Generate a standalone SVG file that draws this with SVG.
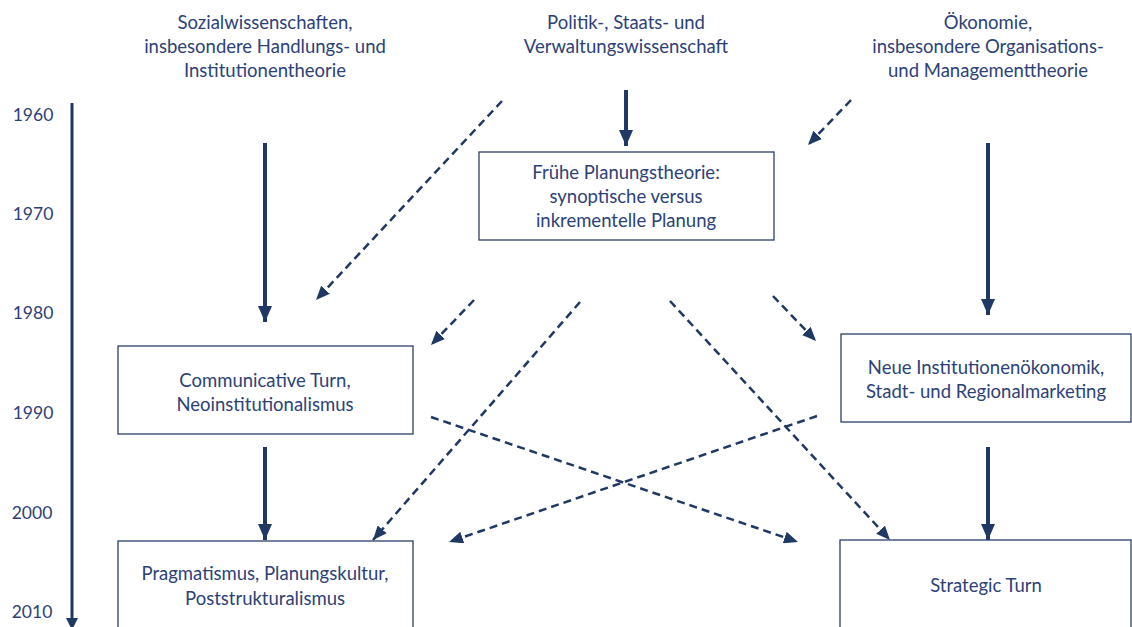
<svg xmlns="http://www.w3.org/2000/svg" width="1132" height="627" viewBox="0 0 1132 627">
<defs>
<style>
text{font-family:Lato,"Liberation Sans",sans-serif;font-size:18.5px;fill:#2C4277;text-anchor:middle}
.yr{font-size:17.5px}
.box{fill:#fff;stroke:#2C3F6B;stroke-width:1.3}
.solid{stroke:#1F3864;stroke-width:4;fill:none;marker-end:url(#hs)}
.dash{stroke:#1F3864;stroke-width:2.5;fill:none;stroke-dasharray:8 5;marker-end:url(#hd)}
</style>
<marker id="hs" markerUnits="userSpaceOnUse" markerWidth="16" markerHeight="16" viewBox="0 0 16 16" refX="16" refY="8" orient="auto"><path d="M0,1 L16,8 L0,15 Z" fill="#1F3864"/></marker>
<marker id="hd" markerUnits="userSpaceOnUse" markerWidth="14" markerHeight="12" viewBox="0 0 14 12" refX="14" refY="6" orient="auto"><path d="M0,0 L14,6 L0,12 Z" fill="#1F3864"/></marker>
</defs>
<rect width="1132" height="627" fill="#fff"/>
<g id="timeline">
<line x1="72" y1="103" x2="72" y2="618" stroke="#1F3864" stroke-width="3"/>
<path d="M66,618 L78,618 L72,630 Z" fill="#1F3864"/>
<text class="yr" x="33" y="121">1960</text>
<text class="yr" x="33" y="220">1970</text>
<text class="yr" x="33" y="319">1980</text>
<text class="yr" x="33" y="419">1990</text>
<text class="yr" x="32" y="519">2000</text>
<text class="yr" x="32" y="618">2010</text>
</g>
<g id="header-sozial">
<text x="265" y="29">Sozialwissenschaften,</text>
<text x="265" y="53">insbesondere Handlungs- und</text>
<text x="265" y="77">Institutionentheorie</text>
</g>
<g id="header-politik">
<text x="626" y="29">Politik-, Staats- und</text>
<text x="626" y="53">Verwaltungswissenschaft</text>
</g>
<g id="header-oekonomie">
<text x="988" y="29">Ökonomie,</text>
<text x="988" y="53">insbesondere Organisations-</text>
<text x="988" y="77">und Managementtheorie</text>
</g>
<g id="connectors">
<line class="solid" x1="265" y1="143" x2="265" y2="322"/>
<line class="solid" x1="626" y1="90" x2="626" y2="146"/>
<line class="solid" x1="988" y1="143" x2="988" y2="315"/>
<line class="solid" x1="265" y1="447" x2="265" y2="540"/>
<line class="solid" x1="988" y1="447" x2="988" y2="540"/>
<line class="dash" x1="502" y1="101" x2="316" y2="300"/>
<line class="dash" x1="851" y1="100" x2="808" y2="145"/>
<line class="dash" x1="474" y1="300" x2="431" y2="345"/>
<line class="dash" x1="580" y1="302" x2="373" y2="540"/>
<line class="dash" x1="670" y1="301" x2="890" y2="540"/>
<line class="dash" x1="773" y1="296" x2="816" y2="341"/>
<line class="dash" x1="431" y1="417" x2="798" y2="542"/>
<line class="dash" x1="817" y1="416" x2="449" y2="542"/>
</g>
<g id="node-fruehe">
<rect class="box" x="479" y="152" width="295" height="88"/>
<text x="626" y="179">Frühe Planungstheorie:</text>
<text x="626" y="203">synoptische versus</text>
<text x="626" y="227">inkrementelle Planung</text>
</g>
<g id="node-communicative">
<rect class="box" x="118" y="346" width="295" height="88"/>
<text x="265" y="387">Communicative Turn,</text>
<text x="265" y="411">Neoinstitutionalismus</text>
</g>
<g id="node-neue">
<rect class="box" x="841" y="334" width="290" height="88"/>
<text x="986" y="374">Neue Institutionenökonomik,</text>
<text x="986" y="398">Stadt- und Regionalmarketing</text>
</g>
<g id="node-pragmatismus">
<rect class="box" x="118" y="541" width="295" height="100"/>
<text x="265" y="580">Pragmatismus, Planungskultur,</text>
<text x="265" y="605">Poststrukturalismus</text>
</g>
<g id="node-strategic">
<rect class="box" x="840" y="540" width="291" height="100"/>
<text x="986" y="592">Strategic Turn</text>
</g>
</svg>
